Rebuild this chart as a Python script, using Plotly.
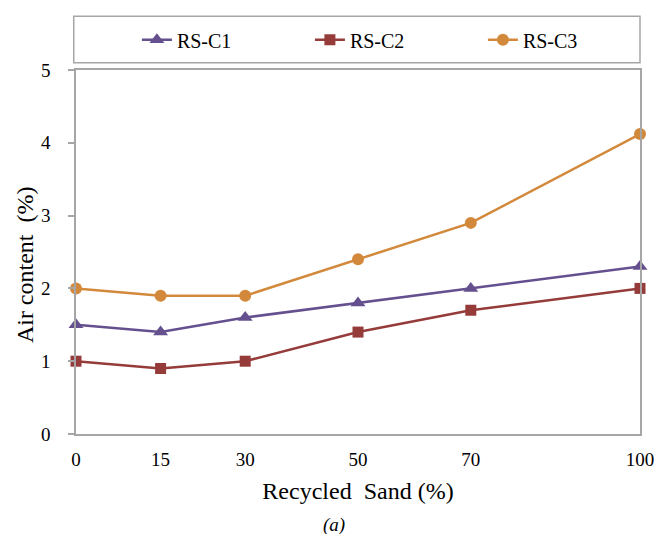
import plotly.graph_objects as go

recycled_sand = [0, 15, 30, 50, 70, 100]
rs_c1 = [1.5, 1.4, 1.6, 1.8, 2.0, 2.3]
rs_c2 = [1.0, 0.9, 1.0, 1.4, 1.7, 2.0]
rs_c3 = [2.0, 1.9, 1.9, 2.4, 2.9, 4.12]
y_ticks = [0, 1, 2, 3, 4, 5]

FONT = "Liberation Serif"
GRAY = "#A6A6A6"

fig = go.Figure()
series = [
    ("RS-C1", rs_c1, "#64508F", "triangle-up", 13),
    ("RS-C2", rs_c2, "#953B39", "square", 11),
    ("RS-C3", rs_c3, "#D3893B", "circle", 12),
]
for name, vals, color, sym, size in series:
    fig.add_trace(go.Scatter(
        x=recycled_sand, y=vals, name=name, mode="lines+markers",
        line=dict(color=color, width=2.5),
        marker=dict(symbol=sym, size=size, color=color),
        cliponaxis=False,
    ))

fig.update_layout(
    width=656, height=534,
    margin=dict(l=76, r=16, t=70, b=100, autoexpand=False),
    paper_bgcolor="white", plot_bgcolor="white",
    font=dict(family=FONT, size=16, color="black"),
    showlegend=True,
    legend=dict(
        orientation="h", x=0.108, xanchor="left", y=1.083, yanchor="middle",
        font=dict(family=FONT, size=20, color="black"),
        entrywidth=128, entrywidthmode="pixels",
        bgcolor="rgba(0,0,0,0)", borderwidth=0,
    ),
    xaxis=dict(
        range=[0, 100], tickvals=recycled_sand, ticktext=[str(v) for v in recycled_sand],
        showgrid=False, zeroline=False, showline=True, linecolor=GRAY, linewidth=1.5,
        mirror=True, ticks="", ticklabelstandoff=7, automargin=False,
        tickfont=dict(family=FONT, size=19),
        title=dict(text="Recycled&nbsp; Sand (%)", font=dict(family=FONT, size=24), standoff=14),
    ),
    yaxis=dict(
        range=[0, 5], tickvals=y_ticks, showgrid=False, zeroline=False,
        showline=True, linecolor=GRAY, linewidth=1.5, mirror=True,
        ticks="outside", ticklen=6, tickcolor=GRAY, tickwidth=1.5,
        ticklabelstandoff=14, automargin=False,
        tickfont=dict(family=FONT, size=19),
    ),
    shapes=[dict(
        type="rect", xref="paper", yref="paper",
        x0=-0.004, x1=1.0, y0=1.02, y1=1.148,
        line=dict(color=GRAY, width=1.5), fillcolor="rgba(0,0,0,0)",
    )],
    annotations=[
        dict(
            text="<i>(a)</i>", xref="paper", yref="paper", x=0.457, y=-0.25,
            xanchor="center", yanchor="middle", showarrow=False,
            font=dict(family=FONT, size=19),
        ),
        dict(
            text="Air content&nbsp; (%)", xref="paper", yref="paper", x=-0.0904, y=0.464,
            xanchor="center", yanchor="middle", textangle=-90, showarrow=False,
            font=dict(family=FONT, size=24),
        ),
    ],
)

fig.write_html("out.html")
